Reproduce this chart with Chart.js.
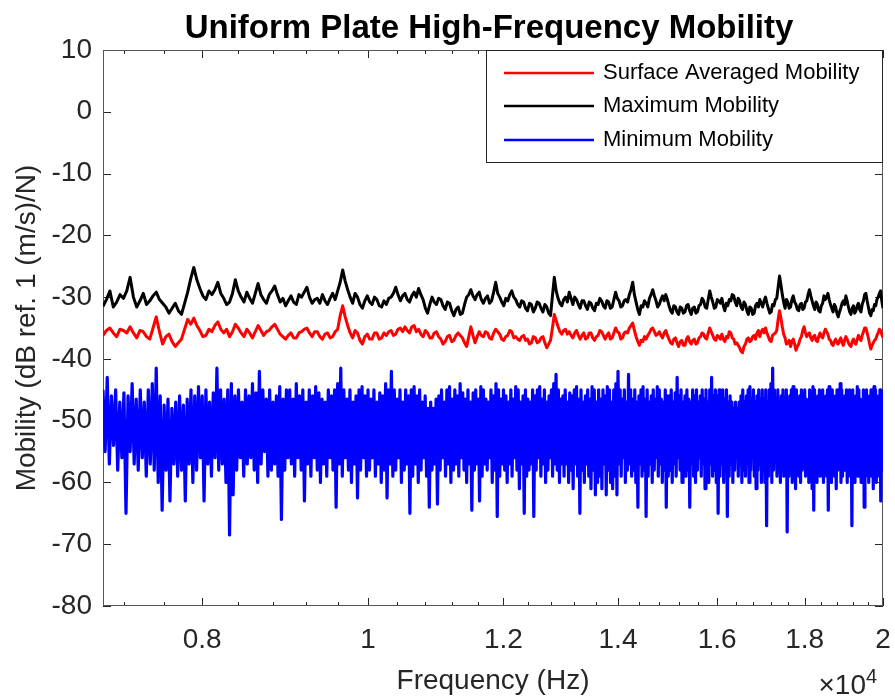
<!DOCTYPE html>
<html>
<head>
<meta charset="utf-8">
<title>Uniform Plate High-Frequency Mobility</title>
<script src="https://cdn.jsdelivr.net/npm/chart.js@4.4.1/dist/chart.umd.min.js"></script>
<style>
  html, body { margin: 0; padding: 0; background: #fff; }
  #chart { display: block; }
</style>
</head>
<body>
<canvas id="chart" width="895" height="698"></canvas>
<script>
// sample grids (Hz)
const fStart = 7000;
const lineStep = 32.5; // averaged + maximum traces
const minStep = 40;    // minimum trace (peak / dip pairs)

const seriesNames = ['Surface Averaged Mobility', 'Maximum Mobility', 'Minimum Mobility'];
const seriesColors = ['#ff0000', '#000000', '#0000ff'];

// dB ref. 1 (m/s)/N
const surfaceAvg = [
  -36.2, -35.4, -35.0, -35.8, -36.4, -35.2, -35.4, -35.8, -34.8, -35.8, -36.6, -35.4, -35.6, -36.4, -36.8, -35.0, -33.2, -35.6, -37.6, -36.4,
  -36.0, -37.2, -38.0, -37.4, -36.8, -35.2, -33.6, -34.4, -33.4, -34.6, -35.4, -36.4, -36.2, -35.2, -35.6, -34.6, -34.0, -35.2, -35.8, -35.2,
  -36.4, -35.6, -34.4, -35.0, -35.8, -36.4, -35.2, -35.8, -36.6, -35.6, -34.6, -35.4, -36.2, -35.6, -35.4, -34.8, -34.4, -35.2, -36.0, -36.4,
  -36.8, -36.2, -35.8, -36.6, -36.6, -35.8, -35.6, -35.2, -35.0, -35.8, -36.4, -35.6, -35.6, -36.4, -36.8, -36.0, -35.8, -36.6, -36.4, -35.6,
  -35.2, -33.0, -31.4, -33.2, -34.6, -35.8, -36.6, -35.4, -35.8, -37.0, -37.6, -36.4, -36.0, -36.8, -36.8, -35.8, -35.8, -36.8, -36.6, -35.8,
  -36.2, -35.6, -35.4, -36.2, -36.0, -35.2, -35.0, -35.6, -34.8, -35.4, -35.8, -34.8, -34.6, -35.6, -35.2, -36.0, -36.4, -35.4, -35.8, -36.6,
  -36.6, -35.8, -35.6, -36.4, -36.8, -37.6, -37.2, -36.4, -36.2, -37.2, -37.0, -36.2, -35.8, -36.2, -36.6, -37.4, -38.0, -36.4, -34.8, -36.2,
  -37.4, -36.4, -35.6, -36.2, -36.4, -35.6, -35.8, -36.6, -36.8, -35.8, -35.2, -35.6, -36.0, -36.8, -37.0, -36.4, -36.2, -35.4, -35.6, -36.6,
  -36.4, -36.8, -37.0, -36.4, -36.2, -37.0, -36.8, -37.6, -37.4, -36.4, -36.6, -37.4, -37.2, -36.6, -36.4, -37.4, -38.2, -37.6, -37.0, -35.0,
  -32.8, -33.8, -34.8, -35.6, -36.0, -35.4, -35.2, -36.0, -35.6, -36.2, -36.6, -35.8, -35.4, -36.2, -36.8, -36.2, -35.8, -36.8, -36.6, -35.8,
  -35.8, -36.6, -37.0, -36.4, -36.2, -35.4, -35.6, -36.2, -36.8, -36.2, -35.8, -36.8, -36.6, -35.8, -35.0, -35.6, -35.8, -36.8, -36.6, -35.8,
  -35.6, -35.8, -35.0, -34.6, -34.2, -35.4, -36.4, -37.2, -37.8, -37.0, -37.2, -36.4, -36.8, -36.2, -35.8, -35.2, -35.0, -35.6, -36.2, -36.0,
  -35.6, -36.2, -36.6, -35.8, -35.4, -36.2, -36.8, -37.4, -37.6, -36.8, -36.6, -37.4, -38.0, -37.2, -37.0, -37.8, -37.8, -36.8, -36.4, -37.2,
  -37.6, -37.0, -36.8, -37.6, -37.4, -36.6, -36.4, -35.8, -36.0, -36.6, -36.8, -35.8, -35.0, -35.6, -36.2, -36.8, -37.0, -36.2, -36.4, -36.8,
  -36.0, -36.8, -37.2, -36.4, -36.6, -35.6, -35.8, -36.6, -36.8, -37.6, -37.4, -37.8, -38.2, -38.8, -39.0, -38.0, -37.6, -36.8, -36.6, -37.2,
  -37.0, -36.4, -36.2, -36.8, -35.8, -35.4, -36.4, -35.6, -35.2, -35.8, -35.0, -35.8, -36.4, -37.0, -37.2, -36.2, -36.0, -35.8, -35.4, -33.6,
  -32.2, -33.4, -34.8, -36.0, -36.6, -37.6, -37.4, -37.0, -38.0, -37.2, -36.8, -37.6, -38.6, -38.0, -37.6, -36.8, -36.4, -35.4, -34.8, -35.8,
  -36.4, -36.0, -35.8, -36.6, -37.0, -36.4, -36.2, -37.0, -37.2, -36.4, -35.8, -36.4, -36.6, -35.8, -35.2, -35.6, -36.0, -36.8, -37.0, -37.6,
  -37.8, -37.2, -36.8, -37.4, -37.6, -37.0, -36.6, -37.4, -37.8, -37.0, -36.4, -36.8, -37.4, -37.8, -38.0, -37.2, -36.8, -37.4, -37.6, -36.8,
  -36.2, -36.8, -37.0, -36.2, -35.6, -35.0, -35.0, -35.8, -36.6, -37.6, -38.4, -37.8, -37.4, -37.0, -36.8, -36.2, -35.8, -35.2, -35.4, -36.0, -36.6
];

const maxMobility = [
  -31.5, -30.4, -29.0, -31.6, -30.8, -29.6, -30.2, -29.0, -26.8, -30.0, -31.6, -30.6, -29.4, -31.2, -30.6, -29.8, -29.2, -30.4, -31.0, -31.6,
  -32.6, -31.8, -31.0, -32.2, -32.8, -31.0, -29.2, -27.0, -25.2, -27.2, -28.6, -29.8, -30.4, -29.0, -29.6, -28.8, -27.6, -29.4, -30.2, -31.2,
  -30.8, -29.4, -27.2, -29.0, -30.0, -30.8, -29.2, -30.2, -31.0, -29.4, -27.8, -29.6, -30.4, -31.0, -29.6, -29.0, -28.2, -29.6, -30.8, -30.2,
  -31.4, -30.6, -29.8, -30.8, -31.2, -29.6, -30.0, -29.2, -28.4, -30.0, -31.0, -30.4, -30.2, -31.0, -29.6, -30.6, -31.2, -30.2, -29.4, -30.4,
  -29.0, -27.6, -25.6, -27.4, -28.8, -30.0, -31.0, -29.4, -30.0, -31.2, -31.8, -30.6, -29.8, -30.8, -31.2, -30.0, -30.4, -31.4, -31.6, -30.6,
  -31.2, -30.2, -30.0, -29.4, -28.4, -29.6, -30.6, -29.8, -29.4, -30.4, -30.8, -29.8, -29.2, -30.0, -28.6, -29.6, -30.4, -31.8, -32.6, -31.2,
  -30.0, -30.8, -31.2, -30.2, -30.4, -31.4, -32.0, -30.8, -31.0, -32.2, -33.0, -32.0, -31.6, -32.8, -32.6, -31.2, -30.0, -29.6, -28.8, -29.8,
  -30.4, -29.6, -29.2, -30.4, -31.0, -30.2, -29.8, -31.0, -30.6, -29.2, -27.6, -29.4, -30.0, -30.8, -31.4, -30.2, -30.6, -29.6, -29.0, -30.0,
  -30.4, -31.2, -31.6, -30.6, -30.8, -31.8, -32.2, -31.0, -31.2, -32.4, -31.8, -30.8, -31.0, -31.8, -32.4, -31.2, -31.6, -32.6, -33.0, -29.8,
  -26.8, -29.0, -30.2, -31.0, -31.4, -30.4, -30.0, -30.8, -29.2, -30.2, -31.2, -30.0, -30.4, -31.2, -31.8, -30.6, -30.6, -31.4, -32.0, -30.8,
  -31.0, -31.8, -32.2, -31.0, -31.2, -30.2, -30.6, -31.4, -31.8, -30.6, -30.8, -31.8, -31.6, -30.4, -29.2, -30.2, -30.6, -31.6, -31.4, -30.6,
  -30.4, -30.8, -29.6, -28.8, -27.6, -29.6, -30.8, -32.0, -32.8, -31.4, -31.6, -30.6, -31.0, -31.6, -30.2, -29.6, -28.8, -29.8, -30.6, -31.6,
  -31.2, -30.4, -29.8, -30.6, -29.6, -30.4, -31.4, -32.2, -32.6, -31.4, -31.6, -32.4, -32.8, -31.6, -31.8, -32.6, -32.4, -31.4, -31.2, -32.2,
  -32.8, -31.8, -31.6, -32.6, -32.4, -31.4, -31.2, -30.2, -30.6, -31.6, -31.8, -30.4, -29.0, -30.0, -30.8, -31.8, -31.6, -30.4, -30.6, -31.0,
  -30.2, -31.4, -32.2, -31.0, -31.4, -30.4, -30.6, -29.6, -29.8, -30.8, -31.4, -30.2, -30.6, -31.6, -32.0, -30.8, -31.2, -32.2, -32.8, -31.6,
  -31.8, -32.8, -32.6, -31.4, -31.0, -31.6, -30.4, -31.0, -31.6, -30.6, -30.0, -31.0, -31.8, -32.6, -32.4, -31.2, -31.4, -30.4, -30.2, -28.4,
  -26.6, -28.0, -29.6, -30.8, -31.8, -30.4, -30.8, -31.8, -31.6, -30.4, -29.8, -30.8, -31.2, -32.0, -32.2, -31.2, -31.0, -32.0, -31.8, -30.8,
  -30.6, -29.6, -28.8, -29.8, -30.6, -31.4, -32.0, -30.8, -31.2, -32.2, -32.4, -31.4, -31.0, -29.8, -30.4, -30.0, -29.4, -30.4, -31.2, -31.8,
  -32.4, -31.2, -31.6, -32.6, -33.2, -32.4, -31.8, -31.0, -30.6, -31.2, -29.8, -30.6, -31.6, -32.4, -32.8, -31.8, -31.4, -32.6, -32.2, -31.4,
  -31.0, -32.0, -32.4, -31.2, -30.6, -29.6, -29.4, -30.6, -31.6, -32.6, -33.0, -32.0, -32.2, -31.2, -31.4, -30.4, -30.0, -29.4, -29.0, -30.6, -31.8
];

// minimum trace: local peaks and the dips between them
const minPeaks = [
  -45, -43, -46, -45, -47, -45.5, -46, -44, -46.5, -45, -47, -45, -44, -41.5, -46, -47.5, -46.5, -48, -47, -46, -47.5, -46.5, -45, -46, -44.5,
  -46, -45, -47, -45.5, -41.5, -45, -46.5, -45, -44, -46, -45, -47, -45, -46, -44, -45.5, -42, -45, -46.5, -45, -47, -46, -44.5, -46.5, -45,
  -45, -46.5, -44, -46, -45, -47, -45, -46, -44.5, -45.5, -46.5, -47, -45, -46, -45, -44, -41.5, -45, -46.5, -45, -47, -46, -45, -44.5, -46,
  -45, -46.5, -45, -47, -45.5, -46, -44, -45, -42, -45, -46.5, -45, -47, -45, -46, -45, -44.5, -46, -45, -47, -46, -48, -47, -48, -46.5,
  -46, -45, -47, -45, -44.5, -46.5, -45, -46, -44, -45.5, -46.5, -45, -47, -45.5, -45, -46.5, -44.5, -45, -46.5, -47, -45, -46, -44, -45, -46.5,
  -45, -46, -47, -45, -46.5, -44.5, -45, -47, -46, -45, -46.5, -47, -45, -46, -45, -44.5, -46.5, -45, -47, -46, -45, -44, -42.5, -45, -46.5,
  -46, -45, -47, -45.5, -46, -45, -44.5, -46.5, -45, -47, -46, -45, -46.5, -44.5, -45, -47, -45, -46.5, -45, -46, -44.5, -45, -47, -45, -44,
  -42, -45, -46.5, -45, -47, -42.5, -45, -46.5, -45, -47, -46, -45, -44.5, -46.5, -45, -47, -46, -45, -46.5, -44.5, -45, -46.5, -47, -45, -46,
  -46, -45, -47, -45.5, -43, -46, -45, -47, -46, -45, -46.5, -47, -45, -46, -45, -47, -46, -45, -46.5, -45, -47, -45, -43, -46, -45,
  -46, -45, -47, -45, -46.5, -45, -47, -46, -47, -48, -47, -48, -47, -46, -45, -47, -46, -45, -44.5, -46.5, -45, -47, -46, -45, -46.5,
  -45, -46.5, -45, -47, -45, -44, -41.5, -45, -46.5, -45, -47, -46, -45, -46.5, -45, -47, -46, -45, -44.5, -46.5, -45, -47, -46, -45, -46.5,
  -45, -46.5, -47, -45, -46, -44.5, -45, -47, -46, -45, -46.5, -45, -47, -46, -45, -44.5, -46.5, -45, -47, -46, -45, -46.5, -44, -45, -46.5,
  -46, -45, -47, -45, -46.5, -45, -47, -46, -44.5, -45, -46.5, -47, -45, -46, -45, -47, -46, -45, -46.5, -44.5, -45, -47, -46, -45, -46.5, -45
];

const minDips = [
  -55, -57, -54, -58, -56, -65, -55, -57, -58, -56, -59, -57, -58, -60, -64.5, -58, -63, -57, -59, -58, -63, -57, -60, -58, -56,
  -63, -57, -59, -56, -58, -57, -60, -68.5, -62, -58, -56, -59, -57, -56, -58, -60, -57, -55, -59, -58, -57, -59, -66, -58, -56,
  -57, -59, -56, -58, -63, -57, -59, -56, -58, -60, -57, -59, -56, -58, -64, -57, -59, -56, -58, -60, -57, -62.5, -58, -56, -59,
  -58, -56, -59, -57, -60, -58, -62.5, -57, -59, -58, -56, -60, -58, -57, -65, -59, -57, -60, -58, -56, -59, -64, -58, -57, -63.5,
  -58, -56, -59, -57, -60, -58, -57, -59, -56, -58, -60, -57, -64.5, -58, -57, -63, -59, -57, -58, -56, -60, -58, -65.5, -59, -57,
  -58, -60, -57, -59, -56, -58, -61, -57, -65, -59, -58, -57, -65.5, -58, -56, -59, -57, -60, -58, -56, -59, -57, -58, -60, -57,
  -59, -57, -60, -58, -61, -57, -59, -65, -58, -60, -57, -59, -61, -58, -62, -60, -59, -61, -57, -62, -58, -60, -61, -59, -62,
  -57, -59, -56, -60, -58, -57, -59, -58, -60, -64, -57, -59, -58, -65.5, -59, -57, -60, -58, -56, -59, -57, -60, -58, -64, -59,
  -58, -60, -57, -59, -56, -58, -60, -57, -59, -58, -64, -57, -59, -60, -58, -56, -59, -57, -61, -58, -60, -57, -59, -58, -60,
  -65, -59, -57, -60, -58, -65.5, -59, -57, -60, -58, -56, -59, -57, -60, -58, -59, -57, -60, -58, -56, -59, -61, -58, -57, -60,
  -58, -60, -67, -59, -57, -60, -58, -56, -59, -57, -60, -58, -59, -57, -68, -59, -57, -60, -58, -61, -57, -59, -60, -58, -57,
  -59, -57, -60, -58, -61, -64.5, -58, -60, -57, -59, -58, -60, -57, -59, -64.5, -58, -60, -57, -59, -61, -58, -57, -60, -59, -58,
  -58, -60, -57, -59, -67, -58, -60, -57, -59, -58, -60, -57, -64, -59, -58, -60, -57, -59, -61, -58, -60, -57, -59, -63, -58, -60
];

const xMin = 7000, xMax = 20000;
const xTicks = [8000, 10000, 12000, 14000, 16000, 18000, 20000];
const xMinorStep = 400;
const yMin = -80, yMax = 10, yStep = 10;

const FONT = '"Liberation Sans", Arial, Helvetica, sans-serif';
const AXIS_COLOR = '#262626';

// build {x, y} points
const avgPts = surfaceAvg.map((v, i) => ({ x: fStart + i * lineStep, y: v }));
const maxPts = maxMobility.map((v, i) => ({ x: fStart + i * lineStep, y: v }));
const minPts = [];
minPeaks.forEach((v, i) => {
  const f = fStart + i * minStep;
  minPts.push({ x: f, y: v });
  minPts.push({ x: f + minStep / 2, y: minDips[i] });
});

// box, inward ticks, legend, title and exponent label
const matlabAxes = {
  id: 'matlabAxes',
  beforeDatasetsDraw(chart) {
    const { ctx, chartArea: a, scales: { x, y } } = chart;
    ctx.save();
    ctx.strokeStyle = AXIS_COLOR;
    ctx.lineWidth = 1;
    ctx.beginPath();
    y.ticks.forEach(t => {
      const py = Math.round(y.getPixelForValue(t.value)) + 0.5;
      ctx.moveTo(a.left, py); ctx.lineTo(a.left + 8, py);
      ctx.moveTo(a.right, py); ctx.lineTo(a.right - 8, py);
    });
    for (let f = xMin + xMinorStep / 2; f < xMax; f += xMinorStep) {
      if (xTicks.includes(f)) continue;
      const px = Math.round(x.getPixelForValue(f)) + 0.5;
      ctx.moveTo(px, a.bottom); ctx.lineTo(px, a.bottom - 4);
      ctx.moveTo(px, a.top); ctx.lineTo(px, a.top + 4);
    }
    xTicks.forEach(f => {
      const px = Math.round(x.getPixelForValue(f)) + 0.5;
      ctx.moveTo(px, a.bottom); ctx.lineTo(px, a.bottom - 8);
      ctx.moveTo(px, a.top); ctx.lineTo(px, a.top + 8);
    });
    ctx.stroke();
    ctx.strokeStyle = '#555';
    ctx.strokeRect(a.left + 0.5, a.top + 0.5, a.right - a.left - 1, a.bottom - a.top - 1);
    ctx.restore();
  },
  afterDatasetsDraw(chart) {
    const { ctx, chartArea: a } = chart;
    const lx = 486.5, ly = a.top + 0.5, lw = a.right - 0.5 - lx, lh = 112;
    ctx.save();
    ctx.fillStyle = '#fff';
    ctx.fillRect(lx, ly, lw, lh);
    ctx.strokeStyle = AXIS_COLOR;
    ctx.lineWidth = 1;
    ctx.strokeRect(lx, ly, lw, lh);
    const rows = [73, 106, 140];
    ctx.font = '22px ' + FONT;
    ctx.textBaseline = 'middle';
    ctx.textAlign = 'left';
    seriesNames.forEach((name, k) => {
      ctx.strokeStyle = seriesColors[k];
      ctx.lineWidth = 2.5;
      ctx.beginPath();
      ctx.moveTo(504, rows[k]); ctx.lineTo(594, rows[k]);
      ctx.stroke();
      ctx.fillStyle = '#000';
      ctx.fillText(name, 603, rows[k]);
    });
    ctx.restore();
  },
  afterDraw(chart) {
    const { ctx, chartArea: a } = chart;
    ctx.save();
    ctx.fillStyle = '#000';
    ctx.textAlign = 'center';
    ctx.textBaseline = 'alphabetic';
    ctx.font = 'bold 33px ' + FONT;
    ctx.fillText('Uniform Plate High-Frequency Mobility', (a.left + a.right) / 2 - 4, 38);
    ctx.fillStyle = AXIS_COLOR;
    ctx.font = '28px ' + FONT;
    ctx.textAlign = 'right';
    ctx.fillText('\u00d710', 866, 694);
    ctx.font = '20px ' + FONT;
    ctx.textAlign = 'left';
    ctx.fillText('4', 866, 683);
    ctx.restore();
  }
};

new Chart(document.getElementById('chart'), {
  type: 'line',
  data: {
    datasets: [
      { label: seriesNames[0], data: avgPts, borderColor: seriesColors[0], borderWidth: 3 },
      { label: seriesNames[1], data: maxPts, borderColor: seriesColors[1], borderWidth: 3 },
      { label: seriesNames[2], data: minPts, borderColor: seriesColors[2], borderWidth: 3.2 }
    ]
  },
  options: {
    responsive: false,
    animation: false,
    events: [],
    elements: { point: { radius: 0 }, line: { tension: 0, borderJoinStyle: 'round' } },
    layout: { padding: { top: 50, right: 12, left: 0, bottom: 0 } },
    plugins: { legend: { display: false }, tooltip: { enabled: false }, title: { display: false } },
    scales: {
      x: {
        type: 'logarithmic',
        min: xMin,
        max: xMax,
        afterBuildTicks: (scale) => { scale.ticks = xTicks.map(v => ({ value: v })); },
        afterFit: (scale) => {
          scale.height = 92;
          scale.paddingLeft = 0;
          scale.paddingRight = 0;
        },
        grid: { display: false, drawTicks: false },
        border: { display: false },
        ticks: {
          autoSkip: false,
          maxRotation: 0,
          padding: 17,
          color: AXIS_COLOR,
          font: { family: FONT, size: 28 },
          callback: (v) => String(v / 1e4)
        },
        title: {
          display: true,
          text: 'Frequency (Hz)',
          color: AXIS_COLOR,
          font: { family: FONT, size: 28 },
          padding: { top: 0, bottom: 0 }
        }
      },
      y: {
        min: yMin,
        max: yMax,
        afterFit: (scale) => {
          scale.width = 103;
          scale.paddingTop = 0;
          scale.paddingBottom = 0;
        },
        grid: { display: false, drawTicks: false },
        border: { display: false },
        ticks: {
          stepSize: yStep,
          padding: 11,
          color: AXIS_COLOR,
          font: { family: FONT, size: 28 }
        },
        title: {
          display: true,
          text: 'Mobility (dB ref. 1 (m/s)/N)',
          color: AXIS_COLOR,
          font: { family: FONT, size: 28 },
          padding: { top: 10, bottom: 0 }
        }
      }
    }
  },
  plugins: [matlabAxes]
});
</script>
</body>
</html>
